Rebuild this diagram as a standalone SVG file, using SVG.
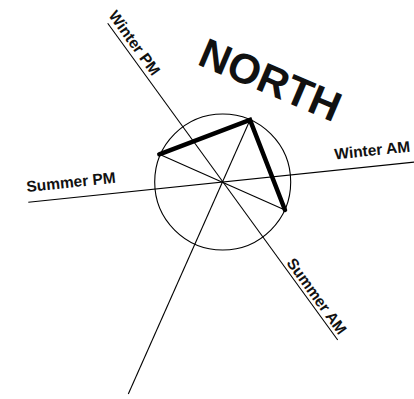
<svg xmlns="http://www.w3.org/2000/svg" width="414" height="399" viewBox="0 0 414 399">
<style>
.thin{stroke:#000;stroke-width:1.1;fill:none}
.thick{stroke:#000;stroke-width:4.5;fill:none;stroke-linejoin:miter;stroke-linecap:round}
.lbl{font-family:"Liberation Sans",Arial,sans-serif;font-weight:bold;font-size:15.5px;fill:#111}
.north{font-family:"Liberation Sans",Arial,sans-serif;font-weight:bold;font-size:42px;fill:#111}
</style>
<rect width="414" height="399" fill="#fff"/>
<g id="circle"><circle class="thin" cx="222.7" cy="182" r="68"/></g>
<g id="connectors">
<line class="thin" x1="107.7" y1="23.3" x2="337.7" y2="340"/>
<line class="thin" x1="28.3" y1="202.3" x2="414" y2="162.1"/>
<line class="thin" x1="128.3" y1="394" x2="250" y2="120"/>
<line class="thin" x1="159.3" y1="154.3" x2="285" y2="210"/>
<polyline class="thick" points="159.3,154.3 250,120 285,210"/>
</g>
<g id="labels">
<text class="north" x="196" y="64" transform="rotate(23 196 64)">NORTH</text>
<text class="lbl" x="108" y="15.6" transform="rotate(54 108 15.6)">Winter PM</text>
<text class="lbl" x="286" y="263" transform="rotate(54 286 263)">Summer AM</text>
<text class="lbl" x="27" y="192" transform="rotate(-6 27 192)">Summer PM</text>
<text class="lbl" x="335" y="159.5" transform="rotate(-6 335 159.5)">Winter AM</text>
</g>
</svg>
